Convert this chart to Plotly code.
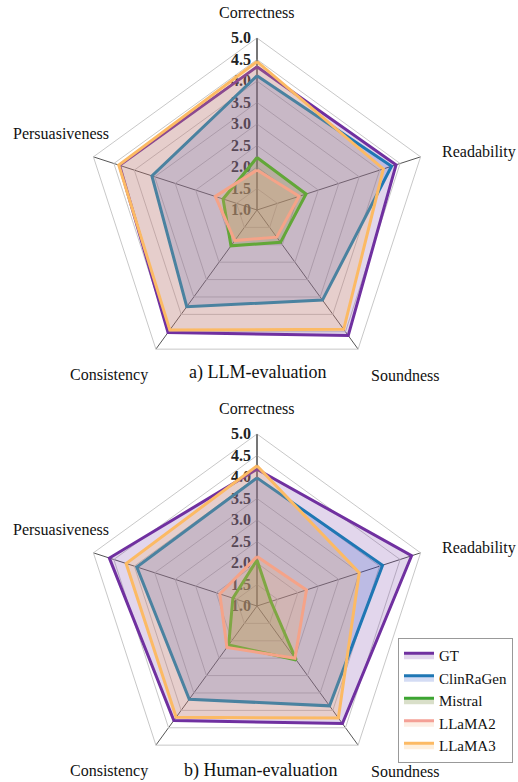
import plotly.graph_objects as go

categories = ["Correctness", "Readability", "Soundness", "Consistency", "Persuasiveness"]
models = ["GT", "ClinRaGen", "Mistral", "LLaMA2", "LLaMA3"]

llm_gt = [4.33, 4.40, 4.61, 4.52, 4.36]
llm_clinragen = [4.12, 4.29, 3.59, 3.78, 3.57]
llm_mistral = [2.22, 2.20, 1.93, 2.03, 1.83]
llm_llama2 = [1.93, 2.03, 1.78, 1.88, 2.02]
llm_llama3 = [4.45, 4.09, 4.43, 4.45, 4.38]

hum_gt = [4.18, 4.78, 4.38, 4.29, 4.61]
hum_clinragen = [3.98, 4.07, 3.87, 3.68, 3.94]
hum_mistral = [2.07, 1.34, 2.55, 2.12, 1.59]
hum_llama2 = [2.15, 2.21, 2.50, 2.19, 1.91]
hum_llama3 = [4.26, 3.50, 4.22, 4.20, 4.20]

radial_ticks = [1.0, 1.5, 2.0, 2.5, 3.0, 3.5, 4.0, 4.5, 5.0]
panel_titles = ["a) LLM-evaluation", "b) Human-evaluation"]

line_colors = ["rgb(112,48,160)", "rgb(31,119,180)", "rgb(60,165,50)",
               "rgb(244,160,150)", "rgb(252,186,100)"]
fill_colors = ["rgba(112,48,160,0.2)", "rgba(40,80,200,0.2)", "rgba(120,140,60,0.28)",
               "rgba(245,170,120,0.2)", "rgba(252,175,80,0.2)"]

SERIF = "Liberation Serif"

W, H = 518, 782
R = 172


def px(x):
    return x / W


def py(y):
    return 1 - y / H


fig = go.Figure()
panels = [
    ("polar", [llm_gt, llm_clinragen, llm_mistral, llm_llama2, llm_llama3], True),
    ("polar2", [hum_gt, hum_clinragen, hum_mistral, hum_llama2, hum_llama3], False),
]
for subplot, series, first in panels:
    for name, vals, lc, fc in zip(models, series, line_colors, fill_colors):
        fig.add_trace(go.Scatterpolar(
            r=vals + [vals[0]], theta=categories + [categories[0]],
            mode="lines", fill="toself", fillcolor=fc,
            line=dict(color=lc, width=3),
            name=name, subplot=subplot, showlegend=not first,
        ))


def polar_layout(cx, cy):
    return dict(
        domain=dict(x=[px(cx - R), px(cx + R)], y=[py(cy + R), py(cy - R)]),
        gridshape="linear",
        bgcolor="rgba(0,0,0,0)",
        radialaxis=dict(
            range=[1, 5], tickvals=radial_ticks, tickformat=".1f",
            angle=90, side="counterclockwise", tickangle=90,
            showline=True, linecolor="#444", linewidth=1,
            gridcolor="#c8c8c8", gridwidth=1, ticks="",
            tickfont=dict(family=SERIF, size=16, color="#222", weight="bold"),
            layer="below traces",
        ),
        angularaxis=dict(
            categoryarray=categories, direction="clockwise", rotation=90,
            showticklabels=False, ticks="",
            showline=True, linecolor="#c8c8c8", linewidth=1,
            gridcolor="#555", gridwidth=1,
            layer="below traces",
        ),
    )


annotations = []
label_pos = [
    ("Correctness", 257, 12, "center"),
    ("Readability", 440, 152, "left"),
    ("Soundness", 369, 375, "left"),
    ("Consistency", 150, 375, "right"),
    ("Persuasiveness", 111, 133, "right"),
]
for offset in [0, 396]:
    for text, x, y, anchor in label_pos:
        annotations.append(dict(
            text=text, x=px(x), y=py(y + offset), xref="paper", yref="paper",
            xanchor=anchor, yanchor="middle", showarrow=False,
            font=dict(family=SERIF, size=16, color="#111"),
        ))
annotations.append(dict(text=panel_titles[0], x=px(257), y=py(373), xref="paper", yref="paper",
                        xanchor="center", yanchor="middle", showarrow=False,
                        font=dict(family=SERIF, size=18, color="#111")))
annotations.append(dict(text=panel_titles[1], x=px(260), y=py(770), xref="paper", yref="paper",
                        xanchor="center", yanchor="middle", showarrow=False,
                        font=dict(family=SERIF, size=18, color="#111")))

fig.update_layout(
    width=W, height=H,
    margin=dict(l=0, r=0, t=0, b=0),
    paper_bgcolor="white", plot_bgcolor="white",
    polar=polar_layout(257, 210),
    polar2=polar_layout(257, 606),
    annotations=annotations,
    showlegend=True,
    legend=dict(
        x=px(398), y=py(638), xanchor="left", yanchor="top",
        bgcolor="white", bordercolor="#999", borderwidth=1,
        font=dict(family=SERIF, size=15, color="#111"),
        tracegroupgap=0, itemwidth=30,
    ),
)

fig.write_html("out.html", post_script="document.body.style.margin='0';",
               config={"displayModeBar": False})
